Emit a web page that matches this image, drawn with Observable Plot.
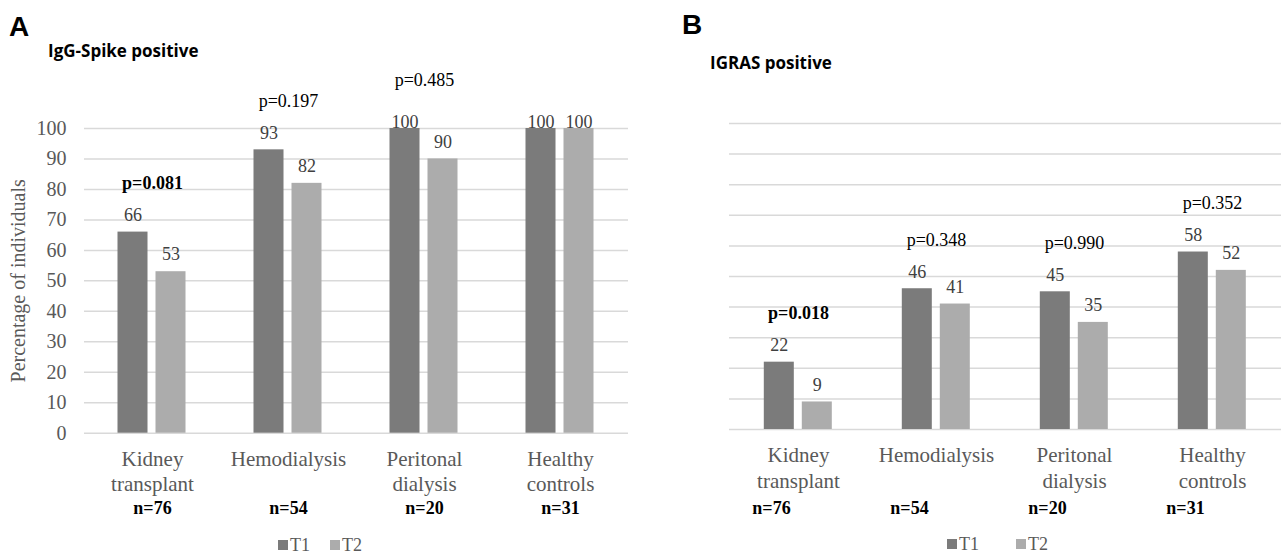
<!DOCTYPE html>
<html><head><meta charset="utf-8">
<script src="https://cdn.jsdelivr.net/npm/d3@7"></script>
<script src="https://cdn.jsdelivr.net/npm/@observablehq/plot@0.6"></script>
<style>
body{margin:0;background:#fff;}
#wrap{position:relative;width:1288px;height:555px;overflow:hidden;background:#fff;}
.panel{position:absolute;top:0;}
.panel svg{overflow:visible;}
.abs{position:absolute;white-space:nowrap;}
.letter{font-family:"Liberation Sans",Arial,sans-serif;font-weight:bold;font-size:28px;line-height:28px;color:#000;}
.sub{font-family:"Open Sans",sans-serif;font-weight:bold;font-size:17px;line-height:17px;color:#000;}
.leg{font-family:"Liberation Serif",serif;font-size:18px;line-height:18px;color:#595959;}
.sw{position:absolute;width:10px;height:10px;}
</style></head><body><div id="wrap"></div>
<script>
const categories = ["Kidney\ntransplant", "Hemodialysis", "Peritonal\ndialysis", "Healthy\ncontrols"];
const timepoints = ["T1", "T2"];
const spikeT1 = [66, 93, 100, 100];
const spikeT2 = [53, 82, 90, 100];
const igrasT1 = [22, 46, 45, 58];
const igrasT2 = [9, 41, 35, 52];
const spikeP = ["p=0.081", "p=0.197", "p=0.485", null];
const igrasP = ["p=0.018", "p=0.348", "p=0.990", "p=0.352"];
const sampleSizes = ["n=76", "n=54", "n=20", "n=31"];
const yTicks = [0, 10, 20, 30, 40, 50, 60, 70, 80, 90, 100];
const colors = ["#7b7b7b", "#acacac"];

function panel({t1, t2, pvals, showAxis, margins, nDx, nDy}) {
  const bars = categories.flatMap((c, i) => [
    {cat: c, time: "T1", value: t1[i]},
    {cat: c, time: "T2", value: t2[i]}
  ]);
  const groups = categories.map((c, i) => ({cat: c, max: Math.max(t1[i], t2[i]), p: pvals[i], n: sampleSizes[i]}));
  const pg = groups.filter(d => d.p);
  const isSig = d => parseFloat(d.p.slice(2)) < 0.1;
  return Plot.plot({
    width: 644, height: 555,
    marginLeft: margins[0], marginRight: margins[1], marginTop: margins[2], marginBottom: margins[3],
    style: {fontFamily: "'Liberation Serif', 'Times New Roman', serif", background: "transparent", overflow: "visible"},
    fx: {domain: categories, padding: 0, axis: null, label: null},
    x: {domain: timepoints, paddingInner: 0.21, paddingOuter: 0.89, axis: null},
    y: {domain: [0, 100], axis: null},
    color: {domain: timepoints, range: colors},
    marks: [
      Plot.gridY(yTicks, {stroke: "#d9d9d9", strokeOpacity: 1, strokeWidth: 1.5}),
      showAxis ? Plot.axisY(yTicks, {tickSize: 0, tickPadding: 18, fontSize: 20, color: "#595959",
        label: "Percentage of individuals", labelAnchor: "center", labelOffset: 74, labelArrow: "none"}) : null,
      Plot.barY(bars, {fx: "cat", x: "time", y: "value", fill: "time"}),
      Plot.text(bars.filter(d => d.value < 100), {fx: "cat", x: "time", y: "value", text: d => String(d.value), dy: -17, fontSize: 18, fill: "#404040"}),
      Plot.text(bars.filter(d => d.value >= 100), {fx: "cat", x: "time", y: "value", text: d => String(d.value), dy: -6, fontSize: 18, fill: "#404040"}),
      Plot.text(pg.filter(isSig), {fx: "cat", y: d => d.max + 16, text: "p", fontSize: 18, fontWeight: "bold", fill: "#000"}),
      Plot.text(pg.filter(d => !isSig(d)), {fx: "cat", y: d => d.max + 16, text: "p", fontSize: 18, fill: "#000"}),
      Plot.text(groups, {fx: "cat", text: "cat", frameAnchor: "bottom", lineAnchor: "top", dy: 15, fontSize: 21, lineHeight: 1.2, fill: "#595959"}),
      Plot.text(groups, {fx: "cat", text: "n", frameAnchor: "bottom", lineAnchor: "middle", dy: nDy, dx: nDx, fontSize: 18, fontWeight: "bold", fill: "#000"})
    ]
  });
}

const wrap = document.getElementById("wrap");
function add(el, left) { const d = document.createElement("div"); d.className = "panel"; d.style.left = left + "px"; d.appendChild(el); wrap.appendChild(d); }
add(panel({t1: spikeT1, t2: spikeT2, pvals: spikeP, showAxis: true, margins: [83.5, 16.5, 128, 122.3], nDx: 0, nDy: 75}), 0);
add(panel({t1: igrasT1, t2: igrasT2, pvals: igrasP, showAxis: false, margins: [83.2, 5.5, 123, 126], nDx: -27, nDy: 79}), 644);

function label(cls, text, left, top) { const d = document.createElement("div"); d.className = "abs " + cls; d.textContent = text; d.style.left = left + "px"; d.style.top = top + "px"; wrap.appendChild(d); }
label("letter", "A", 9, 13);
label("sub", "IgG-Spike positive", 48, 41.5);
label("letter", "B", 682, 11);
label("sub", "IGRAS positive", 710, 53.5);

function legend(x1, x2, top) {
  [[x1, 0], [x2, 1]].forEach(([x, i]) => {
    const s = document.createElement("div"); s.className = "sw"; s.style.left = x + "px"; s.style.top = (top + 4) + "px"; s.style.background = colors[i]; wrap.appendChild(s);
    label("leg", timepoints[i], x + 12, top);
  });
}
legend(278, 330, 536);
legend(947, 1016, 535);
</script></body></html>
